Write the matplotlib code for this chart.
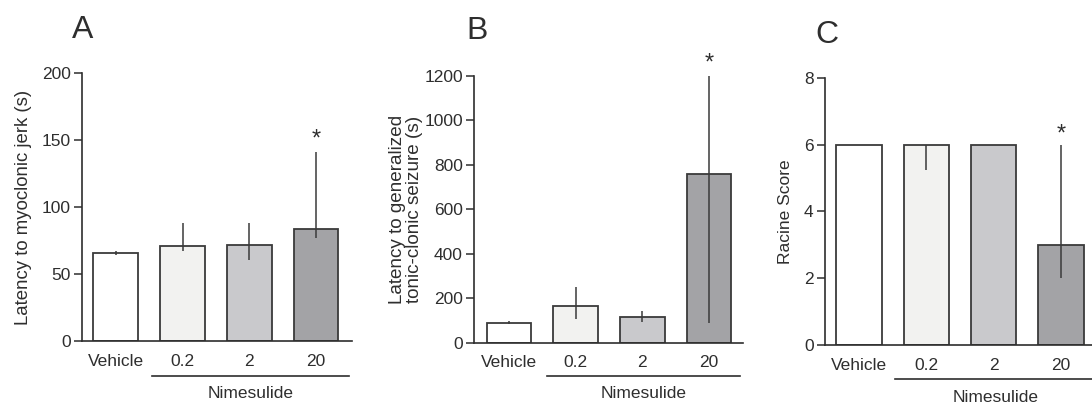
import matplotlib
matplotlib.use("Agg")
import matplotlib.pyplot as plt
from matplotlib.transforms import blended_transform_factory

plt.rcParams["font.family"] = ["Liberation Sans", "DejaVu Sans"]

# Groups and bar fills
groups = ["Vehicle", "0.2", "2", "20"]
bar_colors = ["#ffffff", "#f2f2f0", "#c9c9cc", "#a3a3a6"]
treatment_label = "Nimesulide"

# A: latency to myoclonic jerk (median, lower, upper)
a_median = [65.5, 71, 71.5, 83.5]
a_lower = [64, 67, 60.5, 77]
a_upper = [67, 88, 88, 141]
a_ticks = [0, 50, 100, 150, 200]

# B: latency to generalized tonic-clonic seizure
b_median = [90, 165, 114, 759]
b_lower = [85, 105, 95, 87]
b_upper = [97, 249, 144, 1200]
b_ticks = [0, 200, 400, 600, 800, 1000, 1200]

# C: Racine score
c_median = [6, 6, 6, 3]
c_lower = [6, 5.25, 6, 2]
c_upper = [6, 6, 6, 6]
c_ticks = [0, 2, 4, 6, 8]

W, H = 1092, 405
fig = plt.figure(figsize=(W / 100, H / 100), dpi=100)
ink = "#2e2e2e"


def px_axes(left, right, top, bottom):
    return fig.add_axes([left / W, 1 - bottom / H, (right - left) / W, (bottom - top) / H])


def panel(ax, med, lo, hi, ticks, xlim, ylabel, ylabel_size, ylabel_pad, letter, letter_xy,
          star_y, line_x0, line_y, text_y):
    x = list(range(len(groups)))
    ax.bar(x, med, width=0.67, color=bar_colors, edgecolor="#3a3a3a", linewidth=1.3, zorder=2)
    yerr = [[m - l for m, l in zip(med, lo)], [h - m for m, h in zip(med, hi)]]
    ax.errorbar(x, med, yerr=yerr, fmt="none", ecolor="#3a3a3a", elinewidth=1.1, capsize=0, zorder=3)
    ax.set_xlim(*xlim)
    ax.set_ylim(ticks[0], ticks[-1])
    ax.set_yticks(ticks)
    ax.set_xticks(x)
    ax.set_xticklabels(groups)
    for s in ["top", "right"]:
        ax.spines[s].set_visible(False)
    for s in ["left", "bottom"]:
        ax.spines[s].set_color(ink)
        ax.spines[s].set_linewidth(1.2)
    ax.tick_params(axis="x", length=0, pad=9, labelsize=12.5, colors=ink)
    ax.tick_params(axis="y", length=6, width=1.1, pad=2, labelsize=12.5, colors=ink)
    ax.set_ylabel(ylabel, fontsize=ylabel_size, color=ink, labelpad=ylabel_pad, linespacing=1.0)
    # significance mark over the highest dose
    ax.text(3, star_y, "*", ha="center", va="center", fontsize=17, color=ink)
    # bracket line under the treated groups
    tr = blended_transform_factory(ax.transData, ax.transAxes)
    ax.plot([line_x0, xlim[1] - 0.05], [line_y, line_y], transform=tr, color=ink, lw=1.2, clip_on=False)
    ax.text((line_x0 + xlim[1] - 0.05) / 2, text_y, treatment_label, transform=tr,
            ha="center", va="center", fontsize=12.5, color=ink)
    fig.text(letter_xy[0] / W, 1 - letter_xy[1] / H, letter, fontsize=23, color=ink,
             ha="left", va="baseline")


axA = px_axes(82, 352, 73, 341)
panel(axA, a_median, a_lower, a_upper, a_ticks, (-0.507, 3.54),
      "Latency to myoclonic jerk (s)", 13.4, 7, "A", (72, 38), 150, 0.54, -0.131, -0.195)

axB = px_axes(474, 743, 76, 342.7)
panel(axB, b_median, b_lower, b_upper, b_ticks, (-0.525, 3.51),
      "Latency to generalized\ntonic-clonic seizure (s)", 13.6, 1, "B", (466, 39), 1255,
      0.57, -0.125, -0.19)

axC = px_axes(824.7, 1100, 77.7, 345)
panel(axC, c_median, c_lower, c_upper, c_ticks, (-0.51, 3.58),
      "Racine Score", 12.5, 8, "C", (815, 43), 6.3, 0.53, -0.128, -0.198)

fig.savefig("out.png", dpi=100)
